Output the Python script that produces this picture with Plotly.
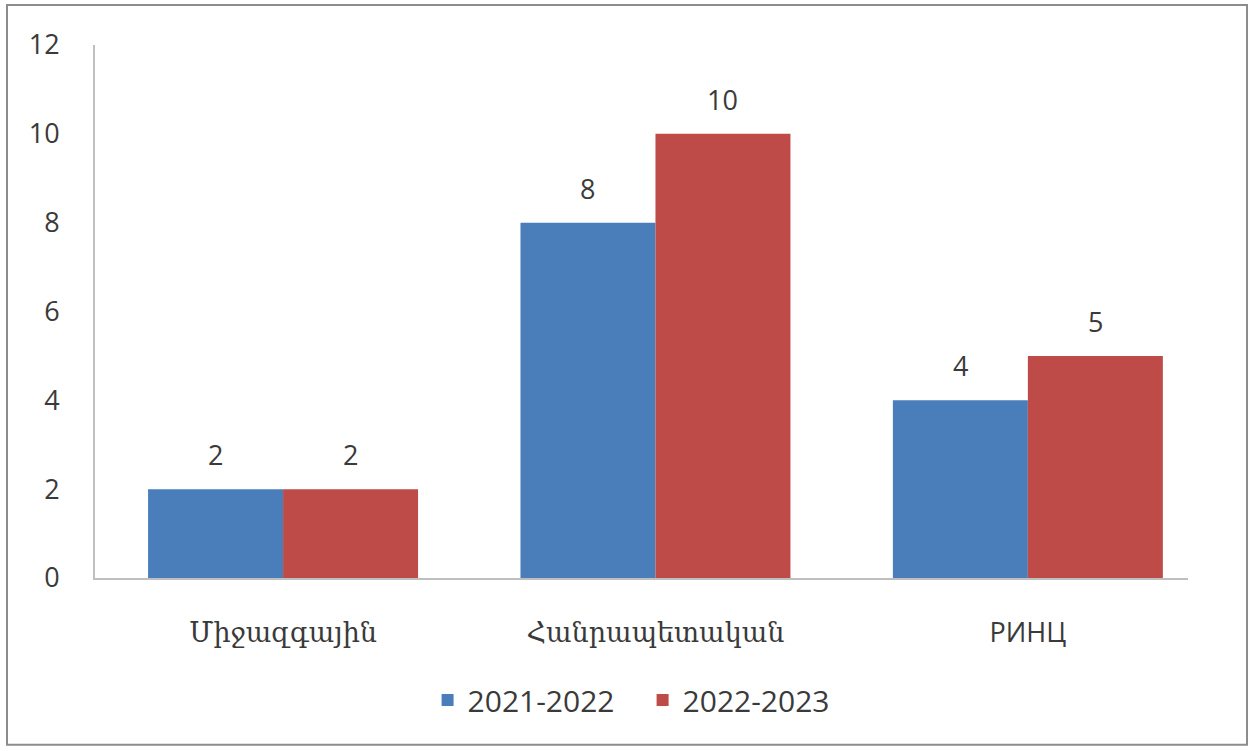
import plotly.graph_objects as go

categories = ["Միջազգային", "Հանրապետական", "РИНЦ"]
series_names = ["2021-2022", "2022-2023"]
values_2021 = [2, 8, 4]
values_2022 = [2, 10, 5]
colors = ["#4A7EBB", "#BE4B48"]

FONT = "Open Sans, DejaVu Serif, DejaVu Sans, sans-serif"
TXT = "#3A3A3A"
FS = 27

fig = go.Figure()
series = [values_2021, values_2022]
for name, vals, col in zip(series_names, series, colors):
    fig.add_trace(go.Bar(
        x=categories, y=vals, name=name, marker_color=col,
        marker_line_width=0,
    ))

# value labels above each bar
bar_px = 135
annotations = []
for i, vals in enumerate(series):
    shift = (-1 if i == 0 else 1) * bar_px / 2
    for c, v in zip(categories, vals):
        annotations.append(dict(
            x=c, y=v, xref="x", yref="y", text=str(v), showarrow=False,
            xshift=shift, yshift=14, yanchor="bottom",
            font=dict(size=FS, color=TXT, family=FONT),
        ))

fig.update_layout(
    width=1253, height=751,
    margin=dict(l=95, r=65, t=45, b=173),
    paper_bgcolor="white", plot_bgcolor="white",
    barmode="group", bargap=0.275, bargroupgap=0,
    font=dict(family=FONT, size=FS, color=TXT),
    showlegend=True,
    legend=dict(orientation="h", x=0.501, xanchor="center", y=-0.229, yanchor="middle",
                font=dict(size=30, color=TXT, family=FONT),
                itemwidth=30, entrywidth=170, traceorder="normal"),
    annotations=annotations,
    shapes=[dict(type="rect", xref="paper", yref="paper",
                 x0=-0.0805, x1=1.054, y0=-0.313, y1=1.075,
                 line=dict(color="#8C8C8C", width=2), fillcolor="rgba(0,0,0,0)", layer="below")],
)
fig.update_xaxes(range=[-0.505, 2.43], showline=True, linecolor="#BFBFBF", linewidth=2,
                 showgrid=False, ticks="", ticklabelstandoff=30, zeroline=False)
fig.update_yaxes(range=[0, 12], dtick=2, showline=True, linecolor="#BFBFBF", linewidth=2,
                 showgrid=False, ticks="", ticklabelstandoff=28, zeroline=False)

fig.write_html("out.html", config={"displayModeBar": False},
               post_script="document.body.style.margin='0px';")
